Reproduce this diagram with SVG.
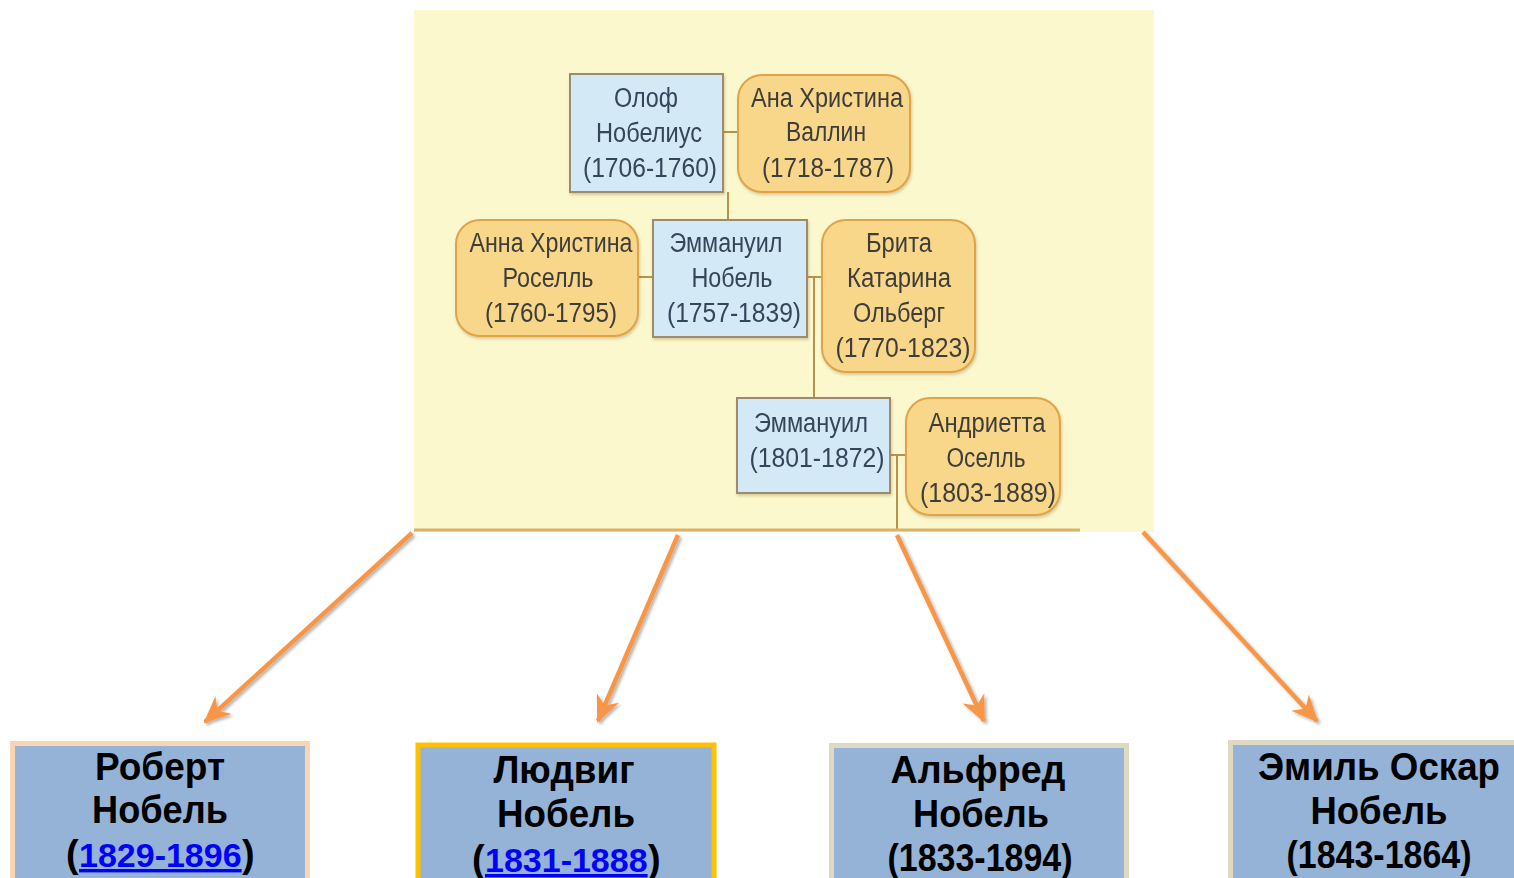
<svg xmlns="http://www.w3.org/2000/svg" width="1514" height="878" viewBox="0 0 1514 878">
<defs>
<style>
.bg{fill:#FCF8CE}
.bx{fill:#D3E9F6;stroke:#9C8B6E;stroke-width:2}
.ox{fill:#F8D68A;stroke:#DFA448;stroke-width:2}
.t{font-family:"Liberation Sans",Arial,sans-serif;font-size:27px;fill:#3E3E3A;text-anchor:middle}
.tb{fill:#34445A}
.ln{stroke:#B8914F;stroke-width:2;fill:none}
.arr{stroke:#F79646;stroke-width:4.5;fill:none;marker-end:url(#ah);filter:url(#sh)}
.card{fill:#95B3D7;stroke-width:5}
.ct{font-family:"Liberation Sans",Arial,sans-serif;font-weight:bold;font-size:38px;fill:#000;text-anchor:middle}
.cs{font-family:"Liberation Sans",Arial,sans-serif;font-weight:bold;font-size:38px;fill:#000}
.lk{font-family:"Liberation Sans",Arial,sans-serif;font-weight:bold;font-size:34px;fill:#0000FF;text-decoration:underline}
</style>
<marker id="ah" markerUnits="userSpaceOnUse" markerWidth="40" markerHeight="40" refX="0" refY="0" viewBox="-30 -20 40 40" orient="auto">
<path d="M2,0 L-25,-12 L-17,0 L-25,12 Z" fill="#F79646"/>
</marker>
<filter id="sh" x="-20%" y="-20%" width="140%" height="140%">
<feDropShadow dx="2" dy="2" stdDeviation="1.5" flood-color="#000" flood-opacity="0.3"/>
</filter>
<filter id="ns" x="-10%" y="-10%" width="130%" height="130%">
<feDropShadow dx="1" dy="2" stdDeviation="1.5" flood-color="#806020" flood-opacity="0.3"/>
</filter>
</defs>
<rect width="1514" height="878" fill="#FFFFFF"/>
<rect class="bg" x="414" y="10" width="740" height="522"/>

<g id="connectors">
<line class="ln" x1="723" y1="132" x2="738" y2="132"/>
<line class="ln" x1="728" y1="192" x2="728" y2="220"/>
<line class="ln" x1="638" y1="277" x2="653" y2="277"/>
<line class="ln" x1="807" y1="277" x2="822" y2="277"/>
<line class="ln" x1="814" y1="277" x2="814" y2="398"/>
<line class="ln" x1="890" y1="455" x2="906" y2="455"/>
<line class="ln" x1="897" y1="455" x2="897" y2="531"/>
<line x1="414" y1="530" x2="1080" y2="530" stroke="#DDB165" stroke-width="3"/>
<line class="arr" x1="412" y1="533" x2="205" y2="722"/>
<line class="arr" x1="678" y1="535" x2="598" y2="721"/>
<line class="arr" x1="897" y1="535" x2="984" y2="721"/>
<line class="arr" x1="1143" y1="532" x2="1317" y2="721"/>
</g>

<g id="olof" filter="url(#ns)">
<rect class="bx" x="570" y="74" width="153" height="118"/>
<text class="t tb" x="646" y="107" textLength="64" lengthAdjust="spacingAndGlyphs">Олоф</text>
<text class="t tb" x="649" y="142" textLength="106" lengthAdjust="spacingAndGlyphs">Нобелиус</text>
<text class="t tb" x="650" y="177" textLength="134" lengthAdjust="spacingAndGlyphs">(1706-1760)</text>
</g>
<g id="ana-vallin" filter="url(#ns)">
<rect class="ox" x="738" y="75" width="172" height="117" rx="24"/>
<text class="t" x="827" y="107" textLength="152" lengthAdjust="spacingAndGlyphs">Ана Христина</text>
<text class="t" x="826" y="141" textLength="80" lengthAdjust="spacingAndGlyphs">Валлин</text>
<text class="t" x="828" y="177" textLength="132" lengthAdjust="spacingAndGlyphs">(1718-1787)</text>
</g>
<g id="anna-roselle" filter="url(#ns)">
<rect class="ox" x="456" y="220" width="182" height="116" rx="24"/>
<text class="t" x="551" y="252" textLength="163" lengthAdjust="spacingAndGlyphs">Анна Христина</text>
<text class="t" x="548" y="287" textLength="91" lengthAdjust="spacingAndGlyphs">Роселль</text>
<text class="t" x="551" y="322" textLength="132" lengthAdjust="spacingAndGlyphs">(1760-1795)</text>
</g>
<g id="emmanuel-1757" filter="url(#ns)">
<rect class="bx" x="653" y="220" width="154" height="117"/>
<text class="t tb" x="726" y="252" textLength="113" lengthAdjust="spacingAndGlyphs">Эммануил</text>
<text class="t tb" x="732" y="287" textLength="81" lengthAdjust="spacingAndGlyphs">Нобель</text>
<text class="t tb" x="734" y="322" textLength="134" lengthAdjust="spacingAndGlyphs">(1757-1839)</text>
</g>
<g id="brita" filter="url(#ns)">
<rect class="ox" x="822" y="220" width="153" height="152" rx="24"/>
<text class="t" x="899" y="252" textLength="66" lengthAdjust="spacingAndGlyphs">Брита</text>
<text class="t" x="899" y="287" textLength="104" lengthAdjust="spacingAndGlyphs">Катарина</text>
<text class="t" x="899" y="322" textLength="92" lengthAdjust="spacingAndGlyphs">Ольберг</text>
<text class="t" x="903" y="357" textLength="135" lengthAdjust="spacingAndGlyphs">(1770-1823)</text>
</g>
<g id="emmanuel-1801" filter="url(#ns)">
<rect class="bx" x="737" y="398" width="153" height="95"/>
<text class="t tb" x="811" y="432" textLength="114" lengthAdjust="spacingAndGlyphs">Эммануил</text>
<text class="t tb" x="817" y="467" textLength="135" lengthAdjust="spacingAndGlyphs">(1801-1872)</text>
</g>
<g id="andrietta" filter="url(#ns)">
<rect class="ox" x="906" y="398" width="154" height="117" rx="24"/>
<text class="t" x="987" y="432" textLength="117" lengthAdjust="spacingAndGlyphs">Андриетта</text>
<text class="t" x="986" y="467" textLength="79" lengthAdjust="spacingAndGlyphs">Оселль</text>
<text class="t" x="988" y="502" textLength="136" lengthAdjust="spacingAndGlyphs">(1803-1889)</text>
</g>

<g id="robert">
<rect class="card" x="12.5" y="743.5" width="295" height="150" stroke="#FBD4B4"/>
<text class="ct" x="160" y="780" textLength="130" lengthAdjust="spacingAndGlyphs">Роберт</text>
<text class="ct" x="160" y="823" textLength="136" lengthAdjust="spacingAndGlyphs">Нобель</text>
<text class="cs" x="66" y="867">(</text>
<text class="lk" x="79" y="867">1829-1896</text>
<text class="cs" x="242" y="867">)</text>
</g>
<g id="ludwig">
<rect class="card" x="418" y="745" width="296" height="150" stroke="#FFC000" stroke-width="4"/>
<text class="ct" x="564" y="783" textLength="141" lengthAdjust="spacingAndGlyphs">Людвиг</text>
<text class="ct" x="566" y="827" textLength="138" lengthAdjust="spacingAndGlyphs">Нобель</text>
<text class="cs" x="472" y="872">(</text>
<text class="lk" x="485" y="872">1831-1888</text>
<text class="cs" x="648" y="872">)</text>
</g>
<g id="alfred">
<rect class="card" x="831.5" y="745.5" width="295" height="150" stroke="#DDD9C3"/>
<text class="ct" x="978" y="783" textLength="175" lengthAdjust="spacingAndGlyphs">Альфред</text>
<text class="ct" x="981" y="827" textLength="136" lengthAdjust="spacingAndGlyphs">Нобель</text>
<text class="ct" x="980" y="871" textLength="185" lengthAdjust="spacingAndGlyphs">(1833-1894)</text>
</g>
<g id="emil">
<rect class="card" x="1230.5" y="742.5" width="300" height="150" stroke="#DDD9C3"/>
<text class="ct" x="1379" y="780" textLength="242" lengthAdjust="spacingAndGlyphs">Эмиль Оскар</text>
<text class="ct" x="1379" y="824" textLength="137" lengthAdjust="spacingAndGlyphs">Нобель</text>
<text class="ct" x="1379" y="868" textLength="185" lengthAdjust="spacingAndGlyphs">(1843-1864)</text>
</g>
</svg>
